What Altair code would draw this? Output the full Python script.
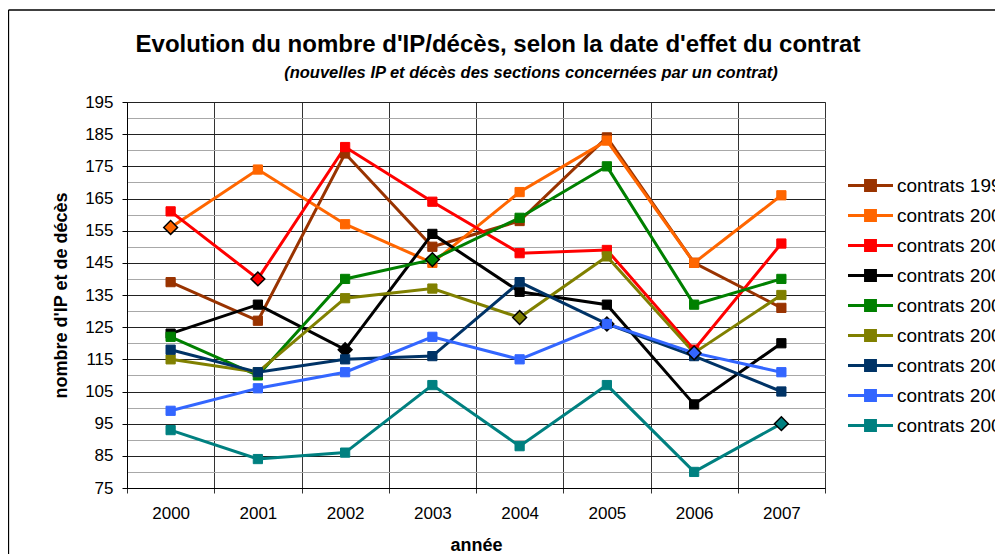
import altair as alt
import pandas as pd

years = [2000, 2001, 2002, 2003, 2004, 2005, 2006, 2007]
series_names = ["contrats 1999", "contrats 2000", "contrats 2001", "contrats 2002",
                "contrats 2003", "contrats 2004", "contrats 2005", "contrats 2006",
                "contrats 2007"]
series_colors = ["#993300", "#FF6600", "#FF0000", "#000000", "#008000",
                 "#808000", "#003366", "#3366FF", "#008080"]

c1999 = [139, 127, 179, 150, 158, 184, 145, 131]
c2000 = [156, 174, 157, 145, 167, 183, 145, 166]
c2001 = [161, 140, 181, 164, 148, 149, 118, 151]
c2002 = [123, 132, 118, 154, 136, 132, 101, 120]
c2003 = [122, 110, 140, 146, 159, 175, 132, 140]
c2004 = [115, 111, 134, 137, 128, 147, 117, 135]
c2005 = [118, 111, 115, 116, 139, 126, 116, 105]
c2006 = [99, 106, 111, 122, 115, 126, 117, 111]
c2007 = [93, 84, 86, 107, 88, 107, 80, 95]
all_values = [c1999, c2000, c2001, c2002, c2003, c2004, c2005, c2006, c2007]

# year at which each series' point is highlighted with a diamond
highlight_years = [None, 2000, 2001, 2002, 2003, 2004, 2005, 2006, 2007]

y_ticks = list(range(75, 200, 5))

title_text = "Evolution du nombre d'IP/décès, selon la date d'effet du contrat"
subtitle_text = "(nouvelles IP et décès des sections concernées par un contrat)"

rows = []
for k, (name, vals, hy) in enumerate(zip(series_names, all_values, highlight_years)):
    for yr, v in zip(years, vals):
        rows.append({"series": name, "year": yr, "value": v,
                     "hl": bool(hy == yr), "k": k})
df = pd.DataFrame(rows)

FONT = "Liberation Sans"
cscale = alt.Scale(domain=series_names, range=series_colors)

x_enc = alt.X("year:O",
              scale=alt.Scale(type="band", paddingInner=0, paddingOuter=0),
              bandPosition=0.5,
              axis=alt.Axis(title="année", labelAngle=0, tickBand="extent",
                            grid=True, gridColor="#333333", gridWidth=1,
                            tickSize=5, tickColor="#333333",
                            domainColor="#000000", labelPadding=12,
                            titlePadding=15))
y_enc = alt.Y("value:Q",
              scale=alt.Scale(domain=[75, 195], nice=False, zero=False),
              axis=alt.Axis(title="nombre d'IP et de décès", values=y_ticks,
                            labelExpr="datum.value % 10 == 0 ? '' : datum.label",
                            grid=True,
                            gridColor={"condition": {"test": "datum.value % 10 == 0",
                                                     "value": "#a8a8a8"},
                                       "value": "#222222"},
                            tickOpacity={"condition": {"test": "datum.value % 10 == 0",
                                                       "value": 0},
                                         "value": 1},
                            tickColor="#000000", tickSize=5,
                            domainColor="#000000", labelPadding=9,
                            titlePadding=14))

leg = alt.Legend(title=None, orient="none", legendX=733, legendY=73,
                 symbolType="M-2.5,0H2.5M-0.55,-0.55H0.55V0.55H-0.55Z",
                 symbolSize=324, symbolStrokeWidth=3,
                 labelFont=FONT, labelFontSize=19, labelColor="#000000",
                 labelOffset=16, rowPadding=7, labelLimit=300)

one = pd.DataFrame({"a": [0]})
border_left = alt.Chart(one).mark_rule(color="#000000", strokeWidth=1.3).encode(
    x=alt.value(-118.5), y=alt.value(-92), y2=alt.value(520))
border_top = alt.Chart(one).mark_rule(color="#000000", strokeWidth=1.3).encode(
    x=alt.value(-118.5), x2=alt.value(900), y=alt.value(-92))

title_mark = alt.Chart(one).mark_text(
    text=title_text, font=FONT, fontSize=24, fontWeight="bold", color="#000000",
    align="center", baseline="middle").encode(x=alt.value(371), y=alt.value(-57))
subtitle_mark = alt.Chart(one).mark_text(
    text=subtitle_text, font=FONT, fontSize=16.5, fontWeight="bold",
    fontStyle="italic", color="#000000",
    align="center", baseline="middle").encode(x=alt.value(404), y=alt.value(-29))

lines = alt.Chart(df).mark_line(strokeWidth=3).encode(
    x=x_enc, y=y_enc,
    stroke=alt.Stroke("series:N", scale=cscale, legend=leg),
    order="year:O")

points = alt.Chart(df).mark_point(filled=True, opacity=1).encode(
    x=x_enc, y=y_enc,
    fill=alt.Fill("series:N", scale=cscale, legend=leg),
    stroke=alt.condition("datum.hl", alt.value("#000000"),
                         alt.Stroke("series:N", scale=cscale, legend=leg)),
    shape=alt.condition("datum.hl", alt.value("diamond"), alt.value("square")),
    size=alt.condition("datum.hl", alt.value(190), alt.value(85)),
    strokeWidth=alt.condition("datum.hl", alt.value(1.5), alt.value(1)))

chart = alt.layer(border_left, border_top, title_mark, subtitle_mark,
                  lines, points).properties(
    width=698, height=386,
    autosize="none",
    padding={"left": 119, "top": 94, "right": 170, "bottom": 66},
).configure_view(stroke="#a0a0a0").configure_axis(
    labelFont=FONT, labelFontSize=17, labelColor="#000000",
    titleFont=FONT, titleFontSize=18, titleFontWeight="bold", titleColor="#000000",
)

chart.save("out.html", embed_options={"renderer": "svg", "actions": False})
